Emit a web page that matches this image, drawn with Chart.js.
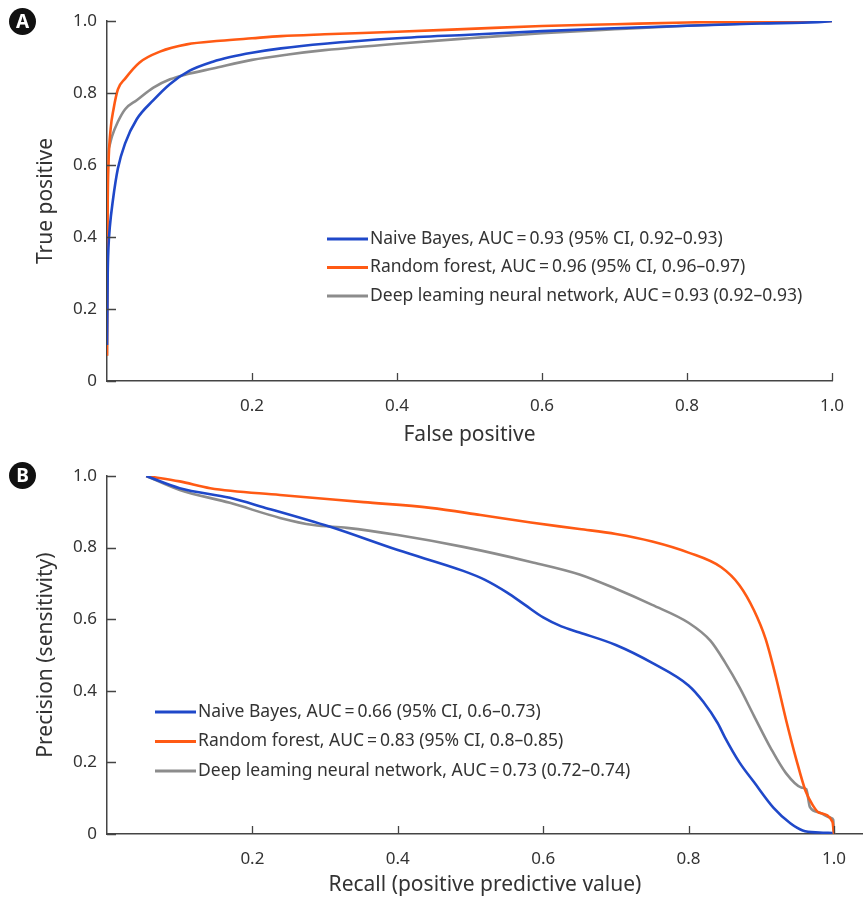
<!DOCTYPE html>
<html><head><meta charset="utf-8">
<script src="https://cdn.jsdelivr.net/npm/chart.js@4"></script>
<style>
html,body{margin:0;padding:0;background:#fff;}
#wrap{position:relative;width:863px;height:900px;overflow:hidden;}
canvas{position:absolute;left:0;}
.badge{position:absolute;width:27px;height:27px;border-radius:50%;background:#111;color:#fff;font:bold 19px "Noto Sans",sans-serif;text-align:center;line-height:27px;z-index:2;}
</style></head><body>
<div id="wrap">
<canvas id="c1" width="863" height="450" style="top:0"></canvas>
<canvas id="c2" width="863" height="450" style="top:450px"></canvas>
<div class="badge" style="left:9px;top:8px">A</div>
<div class="badge" style="left:9px;top:462px">B</div>
</div>
<script>
// ---------- DATA ----------
const yTicks = [0, 0.2, 0.4, 0.6, 0.8, 1.0];
const xTicks = [0.2, 0.4, 0.6, 0.8, 1.0];

const rocLabels = [
  'Naive Bayes, AUC\u2009=\u20090.93 (95% CI, 0.92\u20130.93)',
  'Random forest, AUC\u2009=\u20090.96 (95% CI, 0.96\u20130.97)',
  'Deep leaming neural network, AUC\u2009=\u20090.93 (0.92\u20130.93)'
];
const prLabels = [
  'Naive Bayes, AUC\u2009=\u20090.66 (95% CI, 0.6\u20130.73)',
  'Random forest, AUC\u2009=\u20090.83 (95% CI, 0.8\u20130.85)',
  'Deep leaming neural network, AUC\u2009=\u20090.73 (0.72\u20130.74)'
];

// ROC (A)
const nbRocX = [0, 0.0005, 0.001, 0.002, 0.004, 0.008, 0.015, 0.025, 0.041, 0.064, 0.087, 0.114, 0.146, 0.17, 0.2, 0.24, 0.3, 0.4, 0.5, 0.6, 0.7, 0.8, 0.9, 0.98, 1];
const nbRocY = [0.1, 0.2, 0.3, 0.37, 0.43, 0.5, 0.59, 0.66, 0.727, 0.78, 0.825, 0.862, 0.887, 0.9, 0.912, 0.924, 0.937, 0.952, 0.962, 0.972, 0.98, 0.987, 0.993, 0.997, 1];
const rfRocX = [0, 0.0005, 0.001, 0.002, 0.005, 0.009, 0.015, 0.025, 0.045, 0.073, 0.11, 0.156, 0.2, 0.24, 0.3, 0.4, 0.5, 0.6, 0.7, 0.8, 0.9, 1];
const rfRocY = [0.07, 0.35, 0.5, 0.6, 0.7, 0.755, 0.81, 0.84, 0.885, 0.915, 0.935, 0.945, 0.952, 0.958, 0.963, 0.97, 0.978, 0.986, 0.991, 0.996, 0.999, 1];
const dlRocX = [0, 0.0004, 0.001, 0.003, 0.007, 0.015, 0.025, 0.041, 0.064, 0.087, 0.11, 0.146, 0.2, 0.25, 0.3, 0.4, 0.5, 0.6, 0.7, 0.8, 0.9, 1];
const dlRocY = [0.07, 0.4, 0.6, 0.65, 0.68, 0.72, 0.755, 0.78, 0.815, 0.838, 0.852, 0.868, 0.892, 0.907, 0.919, 0.937, 0.952, 0.966, 0.977, 0.987, 0.994, 1];

// Precision-recall (B)
const nbPrX = [0.054, 0.1, 0.169, 0.215, 0.307, 0.4, 0.49, 0.52, 0.55, 0.575, 0.6, 0.625, 0.65, 0.7, 0.75, 0.8, 0.82, 0.84, 0.85, 0.87, 0.89, 0.917, 0.94, 0.957, 0.98, 0.998];
const nbPrY = [1.0, 0.966, 0.939, 0.913, 0.858, 0.793, 0.735, 0.71, 0.675, 0.64, 0.605, 0.58, 0.563, 0.528, 0.478, 0.415, 0.37, 0.31, 0.27, 0.2, 0.145, 0.073, 0.03, 0.01, 0.004, 0.003];
const rfPrX = [0.054, 0.1, 0.142, 0.238, 0.353, 0.445, 0.514, 0.583, 0.65, 0.7, 0.75, 0.8, 0.845, 0.87, 0.89, 0.906, 0.92, 0.934, 0.948, 0.961, 0.971, 0.979, 0.998, 1.0];
const rfPrY = [1.0, 0.985, 0.966, 0.947, 0.927, 0.911, 0.891, 0.87, 0.852, 0.838, 0.817, 0.786, 0.745, 0.695, 0.625, 0.545, 0.44, 0.32, 0.21, 0.12, 0.08, 0.06, 0.034, 0.0];
const dlPrX = [0.054, 0.1, 0.169, 0.238, 0.284, 0.33, 0.4, 0.49, 0.583, 0.65, 0.7, 0.75, 0.8, 0.83, 0.85, 0.87, 0.89, 0.913, 0.934, 0.955, 0.962, 0.967, 0.98, 0.996, 0.999, 1.0];
const dlPrY = [1.0, 0.961, 0.925, 0.883, 0.863, 0.855, 0.835, 0.802, 0.76, 0.725, 0.685, 0.64, 0.59, 0.54, 0.48, 0.41, 0.33, 0.24, 0.17, 0.13, 0.125, 0.075, 0.06, 0.045, 0.04, 0.0];

const colors = ['#1f48c9', '#ff5a14', '#8c8c8c'];

// ---------- CHART ----------
Chart.defaults.font.family = "'Noto Sans', sans-serif";
Chart.defaults.color = '#333';

const pts = (xs, ys) => xs.map((x, i) => ({x: x, y: ys[i]}));

const inTicks = {
  id: 'inTicks',
  afterDraw(chart) {
    const {ctx, chartArea: a, scales: {x, y}} = chart;
    ctx.save();
    ctx.strokeStyle = '#444';
    ctx.lineWidth = 1.3;
    ctx.beginPath();
    y.ticks.forEach(t => {
      const p = Math.round(y.getPixelForValue(t.value)) + 0.5;
      ctx.moveTo(a.left, p); ctx.lineTo(a.left + 9, p);
    });
    x.ticks.forEach(t => {
      const p = Math.round(x.getPixelForValue(t.value)) + 0.5;
      ctx.moveTo(p, a.bottom); ctx.lineTo(p, a.bottom - 8);
    });
    ctx.stroke();
    ctx.restore();
  }
};

const inLegend = {
  id: 'inLegend',
  afterDraw(chart, args, o) {
    const ctx = chart.ctx;
    ctx.save();
    ctx.font = o.fontSize + "px 'Noto Sans'";
    ctx.textBaseline = 'middle';
    ctx.textAlign = 'left';
    chart.data.datasets.forEach((ds, i) => {
      const yy = o.y + i * o.dy;
      ctx.strokeStyle = ds.borderColor;
      ctx.lineWidth = 3;
      ctx.beginPath(); ctx.moveTo(o.x, yy); ctx.lineTo(o.x + o.len, yy); ctx.stroke();
      ctx.fillStyle = '#333';
      ctx.fillText(ds.label, o.x + o.len + 2, yy);
    });
    ctx.restore();
  }
};

function makeChart(id, labels, series, cfg) {
  const datasets = series.map((s, i) => ({
    label: labels[i],
    data: pts(s[0], s[1]),
    borderColor: colors[i],
    backgroundColor: colors[i],
    borderWidth: 2.6,
    pointRadius: 0,
    fill: false,
    cubicInterpolationMode: 'monotone'
  }));
  return new Chart(document.getElementById(id), {
    type: 'line',
    data: {datasets},
    plugins: [inTicks, inLegend],
    options: {
      responsive: false,
      animation: false,
      layout: {padding: {top: cfg.padTop, right: cfg.padRight, bottom: 0, left: 0}},
      plugins: {
        legend: {display: false},
        tooltip: {enabled: false},
        inLegend: cfg.legend
      },
      scales: {
        x: {
          type: 'linear', min: 0, max: cfg.xMax,
          afterBuildTicks: s => { s.ticks = xTicks.map(v => ({value: v})); },
          afterFit: s => { s.height = cfg.xHeight; },
          grid: {display: true, drawOnChartArea: false, drawTicks: false},
          border: {display: true, color: '#444', width: 1.5},
          ticks: {padding: 15, font: {size: 17}, color: '#333', maxRotation: 0,
                  callback: v => v === 0 ? '0' : v.toFixed(1)},
          title: {display: true, text: cfg.xTitle, font: {size: 21}, color: '#333', padding: {top: 0, bottom: 2}}
        },
        y: {
          type: 'linear', min: 0, max: 1,
          afterBuildTicks: s => { s.ticks = yTicks.map(v => ({value: v})); },
          afterFit: s => { s.width = 107; },
          grid: {display: true, drawOnChartArea: false, drawTicks: false},
          border: {display: true, color: '#444', width: 1.5},
          ticks: {padding: 10, font: {size: 17}, color: '#333',
                  callback: v => v === 0 ? '0' : v.toFixed(1)},
          title: {display: true, text: cfg.yTitle, font: {size: 21}, color: '#333', padding: {top: 33, bottom: 0}}
        }
      }
    }
  });
}

makeChart('c1', rocLabels,
  [[nbRocX, nbRocY], [rfRocX, rfRocY], [dlRocX, dlRocY]],
  {padTop: 21, padRight: 31, xHeight: 69, xMax: 1.0,
   xTitle: 'False positive', yTitle: 'True positive',
   legend: {x: 327, y: 239, dy: 28.5, len: 41, fontSize: 17.5}});

makeChart('c2', prLabels,
  [[nbPrX, nbPrY], [rfPrX, rfPrY], [dlPrX, dlPrY]],
  {padTop: 26, padRight: 0, xHeight: 66, xMax: 1.04,
   xTitle: 'Recall (positive predictive value)', yTitle: 'Precision (sensitivity)',
   legend: {x: 155, y: 262, dy: 29.5, len: 41, fontSize: 17.5}});
</script>
</body></html>
